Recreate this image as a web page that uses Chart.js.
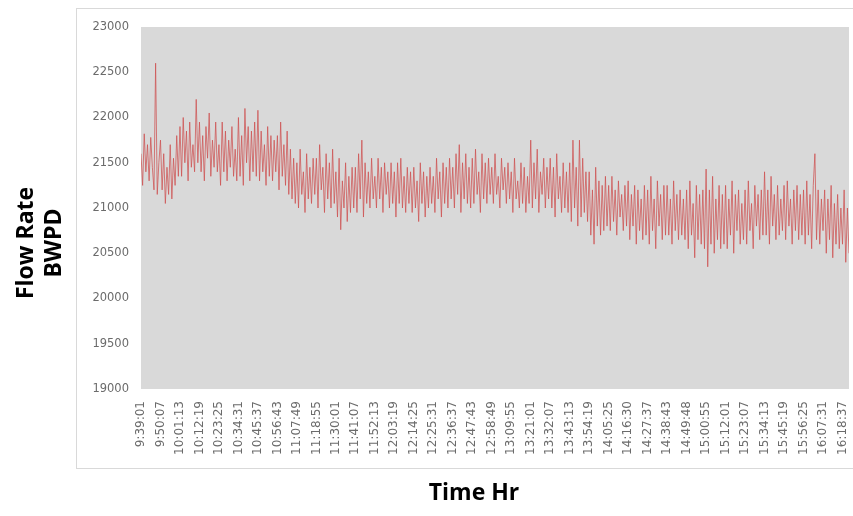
<!DOCTYPE html>
<html>
<head>
<meta charset="utf-8">
<script src="https://cdn.jsdelivr.net/npm/chart.js@4.4.1/dist/chart.umd.min.js"></script>
<style>
  body { margin: 0; background: #fff; }
  canvas { display: block; }
</style>
</head>
<body>
<canvas id="myChart" width="853" height="516"></canvas>
<script>
// tick labels shown on the time axis (one every 12 samples)
const tickLabels = [
  '9:39:01', '9:50:07', '10:01:13', '10:12:19', '10:23:25', '10:34:31', '10:45:37',
  '10:56:43', '11:07:49', '11:18:55', '11:30:01', '11:41:07', '11:52:13', '12:03:19',
  '12:14:25', '12:25:31', '12:36:37', '12:47:43', '12:58:49', '13:09:55', '13:21:01',
  '13:32:07', '13:43:13', '13:54:19', '14:05:25', '14:16:30', '14:27:37', '14:38:43',
  '14:49:48', '15:00:55', '15:12:01', '15:23:07', '15:34:13', '15:45:19', '15:56:25',
  '16:07:31', '16:18:37'
];
const samplesPerTick = 12;

// flow rate, BWPD (12 samples per labelled interval)
const flowRate = [
  21600, 21250, 21820, 21400, 21700, 21300, 21780, 21450, 21200, 22600, 21150, 21500,
  21750, 21200, 21600, 21050, 21450, 21150, 21700, 21100, 21550, 21250, 21800, 21350,
  21900, 21350, 22000, 21500, 21850, 21300, 21950, 21450, 21700, 21400, 22200, 21500,
  21950, 21400, 21800, 21300, 21900, 21550, 22050, 21350, 21750, 21450, 21950, 21400,
  21700, 21250, 21950, 21400, 21850, 21300, 21750, 21450, 21900, 21350, 21650, 21300,
  22000, 21350, 21800, 21250, 22100, 21500, 21900, 21300, 21850, 21400, 21950, 21350,
  22080, 21300, 21850, 21400, 21700, 21250, 21900, 21350, 21800, 21300, 21750, 21400,
  21800, 21200, 21950, 21350, 21700, 21250, 21850, 21150, 21650, 21100, 21550, 21050,
  21500, 21000, 21650, 21150, 21400, 20950, 21600, 21100, 21450, 21050, 21550, 21150,
  21550, 21000, 21700, 21200, 21450, 20950, 21600, 21100, 21500, 21000, 21650, 21050,
  21400, 20900, 21550, 20760, 21300, 21000, 21500, 20850, 21350, 20950, 21450, 21000,
  21450, 20950, 21600, 21100, 21750, 20900, 21500, 21050, 21400, 21000, 21550, 21100,
  21350, 21000, 21550, 21100, 21450, 20950, 21500, 21150, 21400, 21000, 21500, 21050,
  21400, 20900, 21500, 21050, 21550, 21000, 21350, 20950, 21450, 21050, 21400, 20950,
  21450, 21000, 21300, 20850, 21500, 21050, 21400, 20900, 21350, 21000, 21450, 21050,
  21350, 20950, 21550, 21100, 21400, 20900, 21500, 21050, 21450, 21000, 21550, 21100,
  21450, 21000, 21600, 21150, 21700, 20950, 21500, 21100, 21600, 21050, 21450, 21000,
  21550, 21050, 21650, 21150, 21400, 20950, 21600, 21100, 21500, 21050, 21550, 21150,
  21450, 21050, 21600, 21150, 21350, 21000, 21550, 21200, 21450, 21050, 21500, 21100,
  21400, 20950, 21550, 21100, 21300, 21000, 21500, 21050, 21450, 20950, 21350, 21050,
  21750, 21000, 21500, 21100, 21650, 20950, 21400, 21150, 21550, 21000, 21450, 21100,
  21550, 21000, 21450, 20900, 21600, 21100, 21350, 20950, 21500, 21000, 21400, 20950,
  21500, 20850, 21750, 21000, 21450, 20800, 21750, 20900, 21550, 20950, 21400, 20850,
  21400, 20700, 21200, 20600, 21450, 20800, 21300, 20700, 21250, 20750, 21350, 20800,
  21250, 20750, 21350, 20850, 21200, 20700, 21300, 20900, 21150, 20750, 21250, 20800,
  21300, 20650, 21150, 20800, 21250, 20600, 21200, 20750, 21100, 20650, 21250, 20700,
  21200, 20600, 21350, 20750, 21100, 20550, 21300, 20800, 21150, 20650, 21250, 20700,
  21250, 20700, 21100, 20600, 21300, 20750, 21150, 20650, 21200, 20700, 21100, 20650,
  21200, 20550, 21300, 20700, 21050, 20450, 21250, 20650, 21150, 20600, 21200, 20550,
  21430, 20350, 21200, 20600, 21350, 20500, 21100, 20650, 21250, 20550, 21150, 20600,
  21250, 20550, 21100, 20700, 21300, 20500, 21150, 20750, 21200, 20600, 21050, 20650,
  21200, 20600, 21300, 20750, 21050, 20550, 21250, 20800, 21150, 20650, 21200, 20700,
  21400, 20700, 21200, 20600, 21350, 20800, 21150, 20650, 21250, 20700, 21100, 20750,
  21250, 20650, 21300, 20800, 21100, 20600, 21200, 20750, 21250, 20650, 21150, 20700,
  21200, 20600, 21300, 20700, 21150, 20550, 21250, 21600, 20650, 21200, 20600, 21100,
  20750, 21200, 20500, 21100, 20650, 21250, 20450, 21050, 20600, 21150, 20550, 21000,
  20600, 21200, 20400, 21000, 20500
];

// plot background, outer frame and the two axis titles
const decorations = {
  id: 'decorations',
  beforeDraw(chart) {
    const { ctx, chartArea } = chart;
    ctx.save();
    ctx.strokeStyle = '#d9d9d9';
    ctx.lineWidth = 1;
    ctx.strokeRect(76.5, 8.5, 800, 460);
    ctx.fillStyle = '#d9d9d9';
    ctx.fillRect(chartArea.left, chartArea.top, chartArea.right - chartArea.left, chartArea.bottom - chartArea.top);
    ctx.restore();
  },
  afterDraw(chart) {
    const { ctx } = chart;
    ctx.save();
    ctx.fillStyle = '#000';
    ctx.font = 'bold 23px "Open Sans"';
    ctx.textAlign = 'center';
    ctx.textBaseline = 'middle';
    ctx.fillText('Time Hr', 474, 493);
    ctx.translate(0, 243);
    ctx.rotate(-Math.PI / 2);
    ctx.fillText('Flow Rate', 0, 26);
    ctx.fillText('BWPD', 0, 54);
    ctx.restore();
  }
};

const ctx = document.querySelector('#myChart').getContext('2d');
const chart = new Chart(ctx, {
  type: 'line',
  data: {
    datasets: [
      {
        label: 'Flow Rate',
        data: flowRate.map((v, i) => ({ x: i, y: v })),
        borderColor: 'rgba(206, 82, 82, 0.75)',
        borderWidth: 1,
        pointRadius: 0,
        tension: 0
      }
    ]
  },
  options: {
    responsive: false,
    animation: false,
    layout: { padding: { top: 27, right: 4 } },
    plugins: {
      legend: { display: false },
      tooltip: { enabled: false }
    },
    scales: {
      x: {
        type: 'linear',
        min: 0,
        max: flowRate.length - 1,
        afterBuildTicks: (scale) => {
          scale.ticks = tickLabels.map((_, i) => ({ value: i * samplesPerTick }));
        },
        afterFit: (scale) => {
          scale.height = 127;
          scale.paddingLeft = 0;
          scale.paddingRight = 0;
        },
        grid: { display: false, drawTicks: false },
        border: { display: false },
        ticks: {
          autoSkip: false,
          minRotation: 90,
          maxRotation: 90,
          padding: 12,
          color: '#6b6b6b',
          font: { family: 'DejaVu Sans', size: 12 },
          callback: (value) => tickLabels[value / samplesPerTick]
        }
      },
      y: {
        min: 19000,
        max: 23000,
        afterFit: (scale) => {
          scale.width = 141;
          scale.paddingTop = 0;
          scale.paddingBottom = 0;
        },
        grid: { display: false, drawTicks: false },
        border: { display: false },
        ticks: {
          stepSize: 500,
          padding: 12,
          color: '#6b6b6b',
          font: { family: 'DejaVu Sans', size: 11.5 },
          callback: (value) => String(value)
        }
      }
    }
  },
  plugins: [decorations]
});
</script>
</body>
</html>
